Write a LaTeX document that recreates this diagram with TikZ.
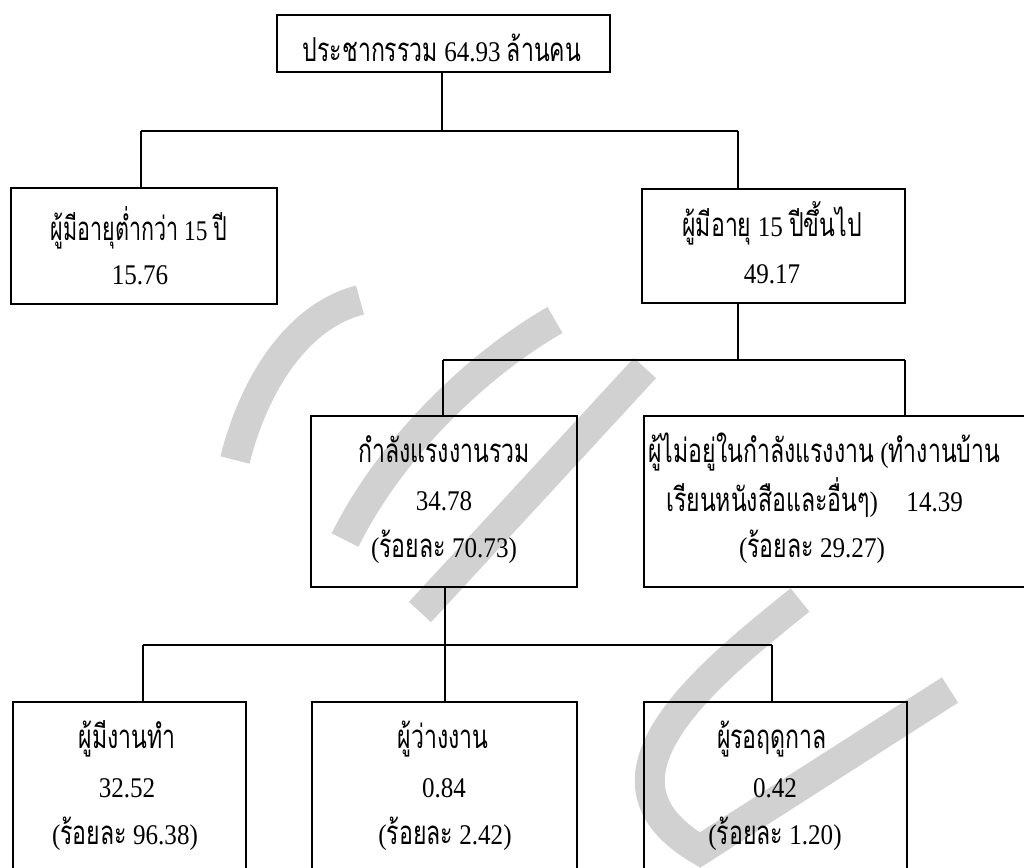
\documentclass[tikz,border=0pt]{standalone}
\usepackage{fontspec}
\setmainfont{Liberation Serif}[FakeStretch=0.88]
\newfontfamily\thaifont[Script=Thai, FakeStretch=0.7]{Loma}
\newcommand\tha[1]{{\thaifont\fontsize{33}{40}\selectfont #1}}
\begin{document}
\begin{tikzpicture}[x=1pt,y=-1pt,
  box/.style={draw, line width=1.6pt, inner sep=0pt},
  conn/.style={line width=1.3pt},
  txt/.style={anchor=base, inner sep=0pt, font=\fontsize{28.5}{34}\selectfont},
  txtl/.style={anchor=base west, inner sep=0pt, font=\fontsize{28.5}{34}\selectfont},
  wm/.style={line width=30pt, draw=black!18, line cap=butt}]
\useasboundingbox (0,0) rectangle (1024,867);
% watermark
\draw[wm] (235,460) .. controls (255,380) and (300,315) .. (360,300);
\draw[wm] (555,320) .. controls (485,360) and (395,440) .. (345,540);
\draw[wm] (645,368) -- (420,612);
\draw[wm] (800,600) .. controls (700,680) and (580,780) .. (700,850) -- (950,690);
% boxes
\node[box, minimum width=333pt, minimum height=57pt] (top) at (443.5,43.5) {};
\node[box, minimum width=266pt, minimum height=116pt] (left) at (144,246) {};
\node[box, minimum width=263pt, minimum height=114pt] (right) at (773.5,246) {};
\node[box, minimum width=266pt, minimum height=171pt] (lf) at (444,501.5) {};
\node[box, minimum width=396pt, minimum height=171pt] (nlf) at (842,501.5) {};
\node[box, minimum width=233pt, minimum height=190pt] (emp) at (129.5,797) {};
\node[box, minimum width=265pt, minimum height=190pt] (unemp) at (444.5,797) {};
\node[box, minimum width=263pt, minimum height=190pt] (seas) at (775.5,797) {};
% junction coordinates
\coordinate (a0) at (442,131);
\coordinate (aL) at (141,131);
\coordinate (aR) at (738,131);
\coordinate (b0) at (738,360);
\coordinate (bL) at (443,360);
\coordinate (bR) at (905,360);
\coordinate (c0) at (445,645);
\coordinate (cL) at (143,645);
\coordinate (cR) at (772,645);
% connectors
\draw[conn] (top.south -| a0) -- (a0);
\draw[conn] (aL) -- (aR);
\draw[conn] (aL) -- (left.north -| aL);
\draw[conn] (aR) -- (right.north -| aR);
\draw[conn] (right.south -| b0) -- (b0);
\draw[conn] (bL) -- (bR);
\draw[conn] (bL) -- (lf.north -| bL);
\draw[conn] (bR) -- (nlf.north -| bR);
\draw[conn] (lf.south -| c0) -- (unemp.north -| c0);
\draw[conn] (cL) -- (cR);
\draw[conn] (cL) -- (emp.north -| cL);
\draw[conn] (cR) -- (seas.north -| cR);
% texts
\node[txt] (t0) at (442,62) {\tha{ประชากรรวม} 64.93 \tha{ล้านคน}};
\node[txt] (t1a) at (139,240) {\scalebox{0.93}[1]{\tha{ผู้มีอายุต่ำกว่า} 15 \tha{ปี}}};
\node[txt] (t1b) at (140,284) {15.76};
\node[txt] (t2a) at (772,236) {\tha{ผู้มีอายุ} 15 \tha{ปีขึ้นไป}};
\node[txt] (t2b) at (772,283) {49.17};
\node[txt] (t3a) at (444,462) {\tha{กำลังแรงงานรวม}};
\node[txt] (t3b) at (444,510) {34.78};
\node[txt] (t3c) at (444,557) {(\tha{ร้อยละ} 70.73)};
\node[txtl] (t4a) at (648,462) {\tha{ผู้ไม่อยู่ในกำลังแรงงาน} (\tha{ทำงานบ้าน}};
\node[txtl] (t4b) at (666,511) {\tha{เรียนหนังสือและอื่นๆ})\quad 14.39};
\node[txt] (t4c) at (812,557) {(\tha{ร้อยละ} 29.27)};
\node[txt] (t5a) at (127,748) {\tha{ผู้มีงานทำ}};
\node[txt] (t5b) at (127,797) {32.52};
\node[txt] (t5c) at (125,844) {(\tha{ร้อยละ} 96.38)};
\node[txt] (t6a) at (443,748) {\tha{ผู้ว่างงาน}};
\node[txt] (t6b) at (444,797) {0.84};
\node[txt] (t6c) at (445,844) {(\tha{ร้อยละ} 2.42)};
\node[txt] (t7a) at (772,748) {\tha{ผู้รอฤดูกาล}};
\node[txt] (t7b) at (775,797) {0.42};
\node[txt] (t7c) at (775,844) {(\tha{ร้อยละ} 1.20)};
\end{tikzpicture}
\end{document}
